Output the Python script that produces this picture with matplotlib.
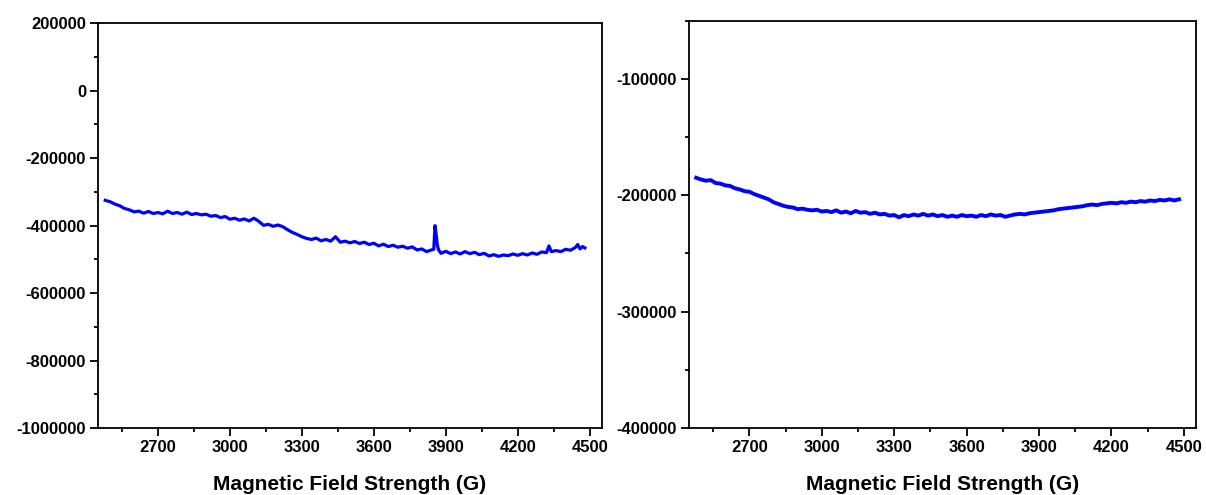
import matplotlib
matplotlib.use("Agg")
import matplotlib.pyplot as plt
from matplotlib.ticker import MultipleLocator, FuncFormatter

plt.rcParams['font.family'] = ['Liberation Sans', 'DejaVu Sans']
plt.rcParams['font.weight'] = 'bold'
plt.rcParams['axes.unicode_minus'] = False

# Left panel data (field in G, intensity)
left_field = [2480, 2500, 2520, 2540, 2560, 2580, 2600, 2620, 2640, 2660, 2680, 2700,
              2720, 2740, 2760, 2780, 2800, 2820, 2840, 2860, 2880, 2900, 2920, 2940,
              2960, 2980, 3000, 3020, 3040, 3060, 3080, 3100, 3120, 3140, 3160, 3180,
              3200, 3220, 3240, 3260, 3280, 3300, 3320, 3340, 3360, 3380, 3400, 3420,
              3440, 3460, 3480, 3500, 3520, 3540, 3560, 3580, 3600, 3620, 3640, 3660,
              3680, 3700, 3720, 3740, 3760, 3780, 3800, 3820, 3840, 3850, 3855, 3860,
              3865, 3870, 3880, 3900, 3920, 3940, 3960, 3980, 4000, 4020, 4040, 4060,
              4080, 4100, 4120, 4140, 4160, 4180, 4200, 4220, 4240, 4260, 4280, 4300,
              4320, 4330, 4340, 4360, 4380, 4400, 4420, 4440, 4450, 4460, 4470, 4480]
left_signal = [-325000, -329000, -336000, -341000, -349000, -353000, -359000, -357000,
               -363000, -358000, -364000, -361000, -365000, -357000, -364000, -361000,
               -366000, -360000, -367000, -364000, -368000, -366000, -372000, -370000,
               -376000, -373000, -381000, -378000, -384000, -380000, -386000, -378000,
               -387000, -399000, -396000, -402000, -398000, -403000, -412000, -420000,
               -426000, -433000, -438000, -441000, -437000, -445000, -441000, -446000,
               -433000, -449000, -446000, -451000, -447000, -453000, -449000, -456000,
               -452000, -460000, -455000, -462000, -458000, -464000, -461000, -467000,
               -463000, -472000, -469000, -477000, -472000, -470000, -400000, -428000,
               -458000, -472000, -482000, -476000, -483000, -478000, -484000, -477000,
               -483000, -479000, -486000, -482000, -490000, -486000, -491000, -487000,
               -489000, -484000, -488000, -483000, -487000, -481000, -485000, -478000,
               -480000, -460000, -477000, -474000, -477000, -470000, -473000, -465000,
               -456000, -469000, -462000, -466000]

# Right panel data
right_field = list(range(2480, 4481, 20))
right_signal = [-185000, -186500, -187500, -187000, -189500, -190000, -191500, -192000,
                -194000, -195000, -196500, -197000, -199000, -200500, -202000, -203500,
                -206000, -207500, -209000, -210000, -210500, -212000, -211500, -212500,
                -213000, -212500, -214000, -213500, -214500, -213000, -215000, -214000,
                -215500, -213500, -215000, -214500, -216000, -215000, -216500, -216000,
                -217500, -217000, -219000, -217000, -218000, -216500, -217500, -216000,
                -217500, -216500, -218000, -217000, -218500, -217500, -218500, -217000,
                -218000, -217500, -218500, -217000, -218000, -216500, -217500, -217000,
                -218500, -217500, -216500, -216000, -216500, -215500, -215000, -214500,
                -214000, -213500, -213000, -212000, -211500, -211000, -210500, -210000,
                -209500, -208500, -208000, -208500, -207500, -207000, -206500, -207000,
                -206000, -206500, -205500, -206000, -205000, -205500, -204500, -205000,
                -204000, -204500, -203500, -204500, -203500]

xlabel = "Magnetic Field Strength (G)"
xticks = [2700, 3000, 3300, 3600, 3900, 4200, 4500]

fig = plt.figure(figsize=(12.06, 4.95), dpi=100)
ax1 = fig.add_axes([0.0813, 0.1354, 0.4176, 0.8175])
ax2 = fig.add_axes([0.5713, 0.1354, 0.4204, 0.8228])

plain = FuncFormatter(lambda v, p: "%d" % round(v))

def style(ax):
    for s in ax.spines.values():
        s.set_linewidth(1.3)
    ax.tick_params(which='major', direction='out', length=5.5, width=1.3,
                   labelsize=12, pad=3)
    ax.tick_params(which='minor', direction='out', length=3, width=1.3)
    ax.set_xticks(xticks)
    ax.xaxis.set_minor_locator(MultipleLocator(150))
    ax.set_xlim(2450, 4550)
    ax.yaxis.set_major_formatter(plain)
    ax.set_xlabel(xlabel, fontsize=15, fontweight='bold', labelpad=14.5)
    for lab in ax.get_xticklabels() + ax.get_yticklabels():
        lab.set_fontweight('bold')

ax1.plot(left_field, left_signal, color='#0000ff', lw=2.3)
ax1.set_ylim(-1000000, 200000)
ax1.yaxis.set_major_locator(MultipleLocator(200000))
ax1.yaxis.set_minor_locator(MultipleLocator(100000))
style(ax1)

ax2.plot(right_field, right_signal, color='#0000ff', lw=2.8)
ax2.set_ylim(-400000, -50000)
ax2.set_yticks([-400000, -300000, -200000, -100000])
ax2.yaxis.set_minor_locator(MultipleLocator(50000))
style(ax2)

fig.savefig("out.png", dpi=100)
